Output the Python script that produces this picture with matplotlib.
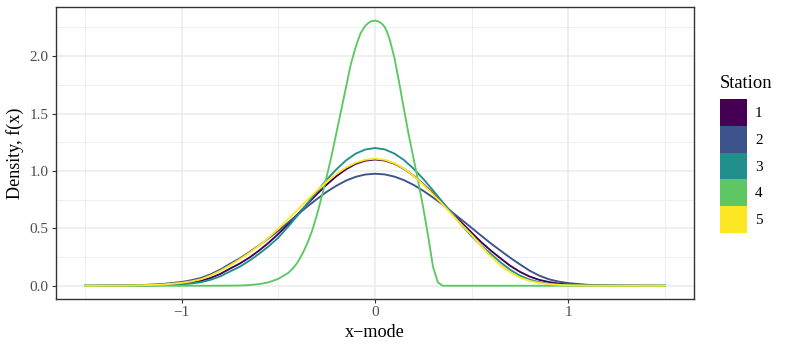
import matplotlib
matplotlib.use("Agg")
import matplotlib.pyplot as plt
from matplotlib.patches import Patch
from matplotlib.ticker import FixedLocator, FixedFormatter

# ---------------- data ----------------
x_grid = [-1.5, -1.4, -1.3, -1.2, -1.1, -1.0, -0.95, -0.9, -0.85, -0.8, -0.75,
          -0.7, -0.65, -0.6, -0.55, -0.5, -0.45, -0.4, -0.35, -0.3, -0.25, -0.2,
          -0.15, -0.1, -0.05, 0.0, 0.05, 0.1, 0.15, 0.2, 0.25, 0.3, 0.35, 0.4,
          0.45, 0.5, 0.55, 0.6, 0.65, 0.7, 0.75, 0.8, 0.85, 0.9, 0.95, 1.0, 1.1,
          1.2, 1.3, 1.4, 1.5]

station1 = [0.0001, 0.0003, 0.0009, 0.0026, 0.0073, 0.019, 0.030, 0.043, 0.068,
            0.103, 0.149, 0.193, 0.245, 0.306, 0.375, 0.452, 0.535, 0.623, 0.712,
            0.799, 0.881, 0.954, 1.015, 1.062, 1.090, 1.100, 1.091, 1.063, 1.018,
            0.958, 0.886, 0.806, 0.720, 0.632, 0.546, 0.462, 0.379, 0.305, 0.238,
            0.173, 0.121, 0.080, 0.051, 0.032, 0.019, 0.011, 0.0042, 0.0015,
            0.0005, 0.0001, 0.0]

station2 = [0.0004, 0.0010, 0.0027, 0.0065, 0.015, 0.033, 0.048, 0.068, 0.100,
            0.141, 0.191, 0.238, 0.293, 0.352, 0.414, 0.480, 0.550, 0.620, 0.690,
            0.756, 0.818, 0.871, 0.916, 0.949, 0.969, 0.976, 0.970, 0.951, 0.920,
            0.878, 0.827, 0.769, 0.706, 0.639, 0.572, 0.504, 0.435, 0.368, 0.305,
            0.243, 0.186, 0.131, 0.088, 0.056, 0.036, 0.023, 0.008, 0.0032,
            0.0012, 0.0004, 0.0001]

station3 = [0.0, 0.0001, 0.0004, 0.0013, 0.0043, 0.012, 0.020, 0.031, 0.052,
            0.082, 0.124, 0.166, 0.218, 0.278, 0.344, 0.420, 0.513, 0.613, 0.717,
            0.822, 0.923, 1.014, 1.092, 1.151, 1.187, 1.200, 1.188, 1.152, 1.095,
            1.019, 0.930, 0.831, 0.728, 0.624, 0.525, 0.432, 0.349, 0.276, 0.203,
            0.138, 0.088, 0.053, 0.031, 0.018, 0.0094, 0.0046, 0.0011, 0.0002,
            0.0, 0.0, 0.0]

station5 = [0.0002, 0.0006, 0.0016, 0.0043, 0.0105, 0.025, 0.038, 0.057, 0.089,
            0.130, 0.178, 0.230, 0.286, 0.349, 0.420, 0.497, 0.579, 0.663, 0.748,
            0.830, 0.906, 0.974, 1.030, 1.072, 1.098, 1.107, 1.097, 1.067, 1.020,
            0.957, 0.881, 0.797, 0.708, 0.617, 0.528, 0.442, 0.345, 0.254, 0.178,
            0.117, 0.071, 0.042, 0.025, 0.014, 0.0074, 0.004, 0.001, 0.0002,
            0.0, 0.0, 0.0]

x_station4 = [-1.5, -1.0, -0.9, -0.8, -0.7, -0.65, -0.6, -0.55, -0.5, -0.45,
              -0.425, -0.4, -0.375, -0.35, -0.325, -0.3, -0.275, -0.25, -0.225,
              -0.2, -0.175, -0.15, -0.125, -0.1, -0.075, -0.05, -0.0375, -0.025,
              -0.0125, 0.0, 0.0125, 0.025, 0.0375, 0.05, 0.0625, 0.075, 0.1,
              0.125, 0.15, 0.175, 0.2, 0.225, 0.25, 0.275, 0.3, 0.325, 0.35,
              0.4, 1.0, 1.5]
station4 = [0.0, 0.0, 0.0001, 0.0003, 0.002, 0.006, 0.014, 0.03, 0.06, 0.11,
            0.15, 0.205, 0.28, 0.37, 0.48, 0.62, 0.78, 0.95, 1.13, 1.33, 1.53,
            1.73, 1.93, 2.08, 2.20, 2.265, 2.285, 2.30, 2.307, 2.31, 2.306,
            2.295, 2.28, 2.255, 2.21, 2.15, 1.99, 1.77, 1.535, 1.31, 1.105,
            0.895, 0.675, 0.43, 0.165, 0.03, 0.0, 0.0, 0.0, 0.0]

stations = ["1", "2", "3", "4", "5"]
colors = ["#440154", "#3B528B", "#21908C", "#5DC863", "#FDE725"]

x_ticks = [-1, 0, 1]
x_tick_labels = ["\u22121", "0", "1"]
x_minor = [-1.5, -0.5, 0.5, 1.5]
y_ticks = [0.0, 0.5, 1.0, 1.5, 2.0]
y_tick_labels = ["0.0", "0.5", "1.0", "1.5", "2.0"]
y_minor = [0.25, 0.75, 1.25, 1.75, 2.25]

# ---------------- figure ----------------
plt.rcParams["font.family"] = ["Liberation Serif", "DejaVu Serif"]
fig = plt.figure(figsize=(7.89, 3.5), dpi=100)
ax = fig.add_axes([0.0710, 0.1457, 0.8086, 0.8333])

series = [(x_grid, station1), (x_grid, station2), (x_grid, station3),
          (x_station4, station4), (x_grid, station5)]
for (xs, ys), c in zip(series, colors):
    ax.plot(xs, ys, color=c, lw=1.35, solid_joinstyle="round", zorder=3)

# ggplot-like 5% expansion
all_x = x_grid + x_station4
all_y = station1 + station2 + station3 + station4 + station5
xr = max(all_x) - min(all_x)
yr = max(all_y) - min(all_y)
ax.set_xlim(min(all_x) - 0.05 * xr, max(all_x) + 0.05 * xr)
ax.set_ylim(min(all_y) - 0.05 * yr, max(all_y) + 0.05 * yr)

ax.xaxis.set_major_locator(FixedLocator(x_ticks))
ax.xaxis.set_major_formatter(FixedFormatter(x_tick_labels))
ax.xaxis.set_minor_locator(FixedLocator(x_minor))
ax.yaxis.set_major_locator(FixedLocator(y_ticks))
ax.yaxis.set_major_formatter(FixedFormatter(y_tick_labels))
ax.yaxis.set_minor_locator(FixedLocator(y_minor))

ax.set_axisbelow(True)
ax.grid(which="major", color="#EBEBEB", lw=1.1)
ax.grid(which="minor", color="#EBEBEB", lw=0.6)
for sp in ax.spines.values():
    sp.set_color("#333333")
    sp.set_linewidth(1.0)

ax.tick_params(which="major", length=3.2, width=0.8, color="#333333",
               labelsize=11, labelcolor="#4D4D4D")
ax.tick_params(axis="x", which="major", pad=1.8)
ax.tick_params(axis="y", which="major", pad=2.2)
ax.tick_params(which="minor", length=0)

ax.set_xlabel("x\u2212mode", fontsize=13.1, va="baseline")
ax.xaxis.set_label_coords(0.5, -0.1303)
ax.set_ylabel("Density, f(x)", fontsize=13.1, va="center")
ax.yaxis.set_label_coords(-0.0635, 0.5)

# legend (filled square keys, stacked without gaps)
leg_fs = 11
fs_pt = leg_fs
key_pt = 26.7 * 72 / 100
hh = (key_pt / fs_pt - 0.245) / 0.65
handles = [Patch(facecolor=c, edgecolor="none") for c in colors]
fig.legend(handles, stations, loc="upper left",
           bbox_to_anchor=(720 / 789, 1 - 99.3 / 350),
           frameon=False, fontsize=leg_fs, handlelength=key_pt / fs_pt,
           handleheight=hh, handletextpad=8.3 * 0.72 / fs_pt, labelspacing=0,
           borderpad=0, borderaxespad=0)
fig.text(720 / 789, 1 - 88.3 / 350, "Station", ha="left", va="baseline",
         fontsize=13.3)

fig.savefig("out.png", dpi=100)
